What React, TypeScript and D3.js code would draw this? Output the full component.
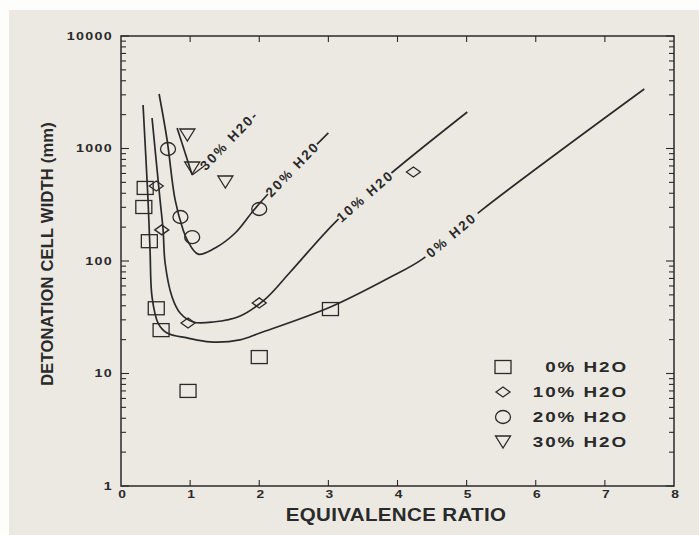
import React from "react";
import * as d3 from "d3";

const chartWidth = 699;
const chartHeight = 535;

// measured points: [equivalence ratio, cell width (mm)]
const pts0 = [[0.35, 446], [0.33, 302], [0.41, 150], [0.51, 38], [0.58, 24.3], [0.97, 7.0], [2.0, 14.0], [3.03, 37.4]];
const pts10 = [[0.51, 464], [0.59, 189], [0.97, 28.1], [2.0, 42.4], [4.23, 618]];
const pts20 = [[0.68, 990], [0.86, 246], [1.03, 163], [2.0, 290]];
const pts30 = [[0.96, 1318], [1.03, 671], [1.51, 504]];

// hand drawn fit curves
const fit0 = [[0.319, 2437], [0.391, 349], [0.42, 125], [0.449, 47.9], [0.536, 28.1], [0.667, 22.9], [0.957, 20.7],
  [1.29, 19.1], [1.72, 19.9], [2.01, 22.9], [3.03, 39], [3.9, 72], [4.36, 104], [5.2, 278], [7.57, 3380]];
const fit10 = [[0.449, 1866], [0.565, 349], [0.609, 189], [0.638, 96], [0.739, 47.9], [0.855, 34.5], [1.043, 28.7],
  [1.333, 28.7], [1.725, 32.5], [2.087, 45.9], [2.449, 79.8], [3.13, 231], [3.93, 618], [5.01, 2110]];
const fit20 = [[0.551, 3050], [0.667, 1190], [0.783, 349], [0.899, 189], [0.957, 154], [1.116, 115], [1.362, 130.6],
  [1.652, 177.4], [1.899, 272.8], [2.1, 378], [3.0, 1374]];
const fit30 = [[0.812, 1521], [1.03, 581]];

const curveLabelText = ["30% H20-", "20% H20", "10% H20", "0% H20"];
const curveLabelAt = [[1.565, 1190], [2.478, 657], [3.53, 378], [4.78, 170]];

const xTicks = [0, 1, 2, 3, 4, 5, 6, 7, 8];
const yTicks = [1, 10, 100, 1000, 10000];
const legendLabels = ["0% H2O", "10% H2O", "20% H2O", "30% H2O"];

const ink = "#2a2a2a";
const paper = "#ece9e3";
const font = "'Liberation Sans', Arial, sans-serif";

function Marker({ kind, cx, cy }) {
  if (kind === 0) return <rect x={cx - 8} y={cy - 6.5} width={16} height={13} fill="none" stroke={ink} strokeWidth={1.3} />;
  if (kind === 1) return <path d={`M${cx - 7},${cy}L${cx},${cy - 5}L${cx + 7},${cy}L${cx},${cy + 5}Z`} fill="none" stroke={ink} strokeWidth={1.3} />;
  if (kind === 2) return <ellipse cx={cx} cy={cy} rx={7.5} ry={6.5} fill="none" stroke={ink} strokeWidth={1.3} />;
  return <path d={`M${cx - 7.5},${cy - 6}L${cx + 7.5},${cy - 6}L${cx},${cy + 6}Z`} fill="none" stroke={ink} strokeWidth={1.3} />;
}

// the scanned lettering is wider than Liberation Sans, so stretch it a bit
function WideText({ x, y, sx, anchor, size, spacing, children }) {
  return (
    <g transform={`translate(${x},${y}) scale(${sx},1)`}>
      <text dy="0.36em" textAnchor={anchor} fontSize={size} fontWeight="bold" letterSpacing={spacing} fill={ink}>
        {children}
      </text>
    </g>
  );
}

export default function App() {
  const x = d3.scaleLinear().domain([0, 8]).range([121, 674]);
  const y = d3.scaleLog().domain([1, 10000]).range([486, 36]);
  const line = d3.line().x(d => x(d[0])).y(d => y(d[1])).curve(d3.curveCatmullRom.alpha(0.5));

  const minor = y.ticks();
  const angles = [-46, -46, -41, -40];
  const gaps = [0, 70, 70, 68];

  return (
    <svg width={chartWidth} height={chartHeight} style={{ position: "absolute", left: 0, top: 0 }} fontFamily={font}>
      <rect width={chartWidth} height={chartHeight} fill={paper} />
      <rect width={chartWidth} height={10} fill="#fdfdfc" />
      <rect width={9} height={chartHeight} fill="#fdfdfc" />

      {/* frame */}
      <rect x={121} y={36} width={553} height={450} fill="none" stroke={ink} strokeWidth={1.5} />

      {/* log ticks left and right */}
      {minor.map((v, i) => {
        const major = Math.abs(Math.log10(v) - Math.round(Math.log10(v))) < 1e-9;
        const len = major ? 8 : 5;
        return (
          <g key={"yt" + i} stroke={ink} strokeWidth={1.1}>
            <line x1={121} x2={121 + len} y1={y(v)} y2={y(v)} />
            <line x1={674} x2={674 - len} y1={y(v)} y2={y(v)} />
          </g>
        );
      })}
      {xTicks.slice(1, -1).map(v => (
        <g key={"xt" + v} stroke={ink} strokeWidth={1.1}>
          <line x1={x(v)} x2={x(v)} y1={36} y2={42} />
          <line x1={x(v)} x2={x(v)} y1={486} y2={480} />
        </g>
      ))}

      {/* tick labels */}
      {yTicks.map(v => (
        <WideText key={"yl" + v} x={113} y={y(v)} sx={1.3} anchor="end" size={11} spacing={1}>{v}</WideText>
      ))}
      {xTicks.map(v => (
        <WideText key={"xl" + v} x={x(v) + 1} y={494} sx={1.2} anchor="middle" size={11.5} spacing={0}>{v}</WideText>
      ))}

      {/* axis titles */}
      <WideText x={396} y={515} sx={1.14} anchor="middle" size={18} spacing={0.3}>EQUIVALENCE RATIO</WideText>
      <text transform="translate(53,254) rotate(-90)" textAnchor="middle" fontSize={16.5} fontWeight="bold"
        letterSpacing={0.2} fill={ink}>DETONATION CELL WIDTH (mm)</text>

      {/* curves */}
      {[fit0, fit10, fit20, fit30].map((f, i) => (
        <path key={"c" + i} d={line(f)} fill="none" stroke={ink} strokeWidth={1.7} />
      ))}
      <path d={`M${x(1.03)},${y(581)}L${x(1.03) + 12},${y(581) - 9}`} stroke={ink} strokeWidth={1.3} />

      {/* curve labels */}
      {curveLabelText.map((t, i) => (
        <g key={"cl" + i} transform={`translate(${x(curveLabelAt[i][0])},${y(curveLabelAt[i][1])}) rotate(${angles[i]})`}>
          {gaps[i] > 0 && <rect x={-gaps[i] / 2} y={-6} width={gaps[i]} height={12} fill={paper} />}
          <text textAnchor="middle" dy="0.36em" fontSize={13.5} fontWeight="bold" letterSpacing={2.2} fill={ink}>{t}</text>
        </g>
      ))}

      {/* points */}
      {[pts0, pts10, pts20, pts30].map((s, k) =>
        s.map((d, i) => <Marker key={`p${k}-${i}`} kind={k} cx={x(d[0])} cy={y(d[1])} />)
      )}

      {/* legend */}
      {legendLabels.map((t, i) => (
        <g key={"lg" + i}>
          <Marker kind={i} cx={503} cy={367 + 25 * i} />
          <WideText x={628} y={367 + 25 * i} sx={1.3} anchor="end" size={14.5} spacing={1.5}>{t}</WideText>
        </g>
      ))}
    </svg>
  );
}
